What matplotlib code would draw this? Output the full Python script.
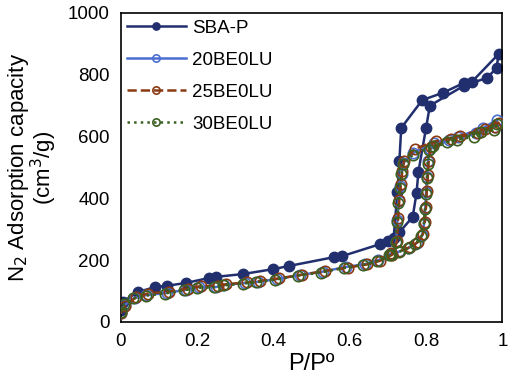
import matplotlib
matplotlib.use("Agg")
import matplotlib.pyplot as plt

# N2 isotherms: adsorption then desorption branch
sba_p = [0.000, 0.005, 0.045, 0.090, 0.120, 0.170, 0.230, 0.250, 0.320, 0.400, 0.440,
         0.560, 0.580, 0.680, 0.715, 0.725, 0.730, 0.735, 0.790, 0.845, 0.900, 0.920, 0.990,
         0.985, 0.960, 0.900, 0.810, 0.800, 0.780, 0.775, 0.765, 0.730, 0.700]
sba_v = [39, 65, 97, 113, 117, 126, 142, 146, 155, 171, 181,
         210, 213, 252, 272, 420, 520, 628, 718, 742, 774, 777, 867,
         822, 790, 765, 700, 628, 486, 417, 340, 290, 262]

be20_p = [0.000, 0.010, 0.036, 0.067, 0.120, 0.170, 0.205, 0.250, 0.270, 0.325, 0.360,
          0.410, 0.470, 0.530, 0.590, 0.640, 0.675, 0.710, 0.722, 0.725, 0.728, 0.732,
          0.736, 0.740, 0.767, 0.820, 0.885, 0.950, 0.987,
          0.980, 0.930, 0.860, 0.810, 0.805, 0.803, 0.800, 0.798, 0.795, 0.790,
          0.775, 0.755, 0.730, 0.705]
be20_v = [30, 55, 78, 87, 94, 104, 113, 113, 120, 126, 130,
          139, 152, 163, 178, 187, 200, 220, 260, 330, 390, 440,
          480, 515, 547, 579, 600, 628, 655,
          630, 610, 590, 560, 520, 470, 420, 370, 320, 280,
          255, 240, 228, 220]

be25_p = [0.000, 0.012, 0.040, 0.070, 0.125, 0.175, 0.210, 0.255, 0.275, 0.330, 0.365,
          0.415, 0.475, 0.535, 0.595, 0.645, 0.680, 0.712, 0.724, 0.727, 0.730, 0.734,
          0.738, 0.742, 0.770, 0.825, 0.890, 0.955, 0.990,
          0.982, 0.935, 0.865, 0.812, 0.807, 0.805, 0.802, 0.800, 0.797, 0.792,
          0.778, 0.757, 0.733, 0.708]
be25_v = [28, 52, 80, 92, 98, 108, 116, 117, 122, 128, 133,
          141, 153, 165, 176, 186, 198, 218, 262, 335, 395, 445,
          490, 520, 560, 585, 603, 625, 645,
          630, 612, 592, 565, 522, 475, 425, 372, 325, 285,
          258, 242, 230, 222]

be30_p = [0.000, 0.008, 0.033, 0.065, 0.115, 0.165, 0.200, 0.245, 0.268, 0.320, 0.355,
          0.405, 0.465, 0.525, 0.585, 0.635, 0.672, 0.708, 0.720, 0.724, 0.727, 0.731,
          0.735, 0.739, 0.765, 0.818, 0.880, 0.945, 0.985,
          0.978, 0.925, 0.855, 0.808, 0.804, 0.802, 0.800, 0.797, 0.794, 0.788,
          0.772, 0.752, 0.728, 0.702]
be30_v = [32, 57, 76, 85, 92, 102, 110, 112, 118, 124, 128,
          137, 150, 160, 175, 185, 197, 216, 258, 325, 385, 435,
          478, 510, 540, 570, 590, 615, 640,
          622, 600, 582, 555, 512, 465, 415, 365, 318, 278,
          252, 238, 226, 218]

labels = ["SBA-P", "20BE0LU", "25BE0LU", "30BE0LU"]

plt.rcParams['font.family'] = ['Liberation Sans', 'DejaVu Sans']

fig = plt.figure(figsize=(5.10, 3.81), dpi=100)
ax = fig.add_axes([0.237, 0.155, 0.748, 0.811])

ax.plot(sba_p, sba_v, '-o', color='#212f6e', mfc='#212f6e', mec='#212f6e',
        lw=1.8, ms=7.5, label=labels[0], zorder=2)
ax.plot(be20_p, be20_v, '-o', color='#4a6fd0', mfc='none', mec='#4a6fd0',
        lw=1.8, ms=7.5, mew=1.2, label=labels[1], zorder=3)
ax.plot(be25_p, be25_v, '--o', color='#8a3a12', mfc='none', mec='#8a3a12',
        lw=1.8, ms=7.5, mew=1.2, label=labels[2], zorder=4)
ax.plot(be30_p, be30_v, ':o', color='#3b6020', mfc='none', mec='#3b6020',
        lw=1.8, ms=7.5, mew=1.2, label=labels[3], zorder=5)

ax.set_xlim(0, 1)
ax.set_ylim(0, 1000)
ax.set_xticks([0, 0.2, 0.4, 0.6, 0.8, 1])
ax.set_xticklabels(["0", "0.2", "0.4", "0.6", "0.8", "1"])
ax.set_yticks([0, 200, 400, 600, 800, 1000])
ax.tick_params(length=0, labelsize=13.5, pad=8)
for s in ax.spines.values():
    s.set_linewidth(1.2)

ax.set_xlabel("P/Pº", fontsize=17, labelpad=2)
ax.set_ylabel("N$_2$ Adsorption capacity\n(cm$^3$/g)", fontsize=16, labelpad=6,
              linespacing=0.88)
ax.yaxis.set_label_coords(-0.163, 0.50)

ax.legend(loc='upper left', frameon=False, fontsize=13.5, handlelength=3.1,
          borderaxespad=0.05, labelspacing=0.8, handletextpad=0.35,
          borderpad=0.3, markerscale=0.7)

fig.savefig("out.png", dpi=100)
